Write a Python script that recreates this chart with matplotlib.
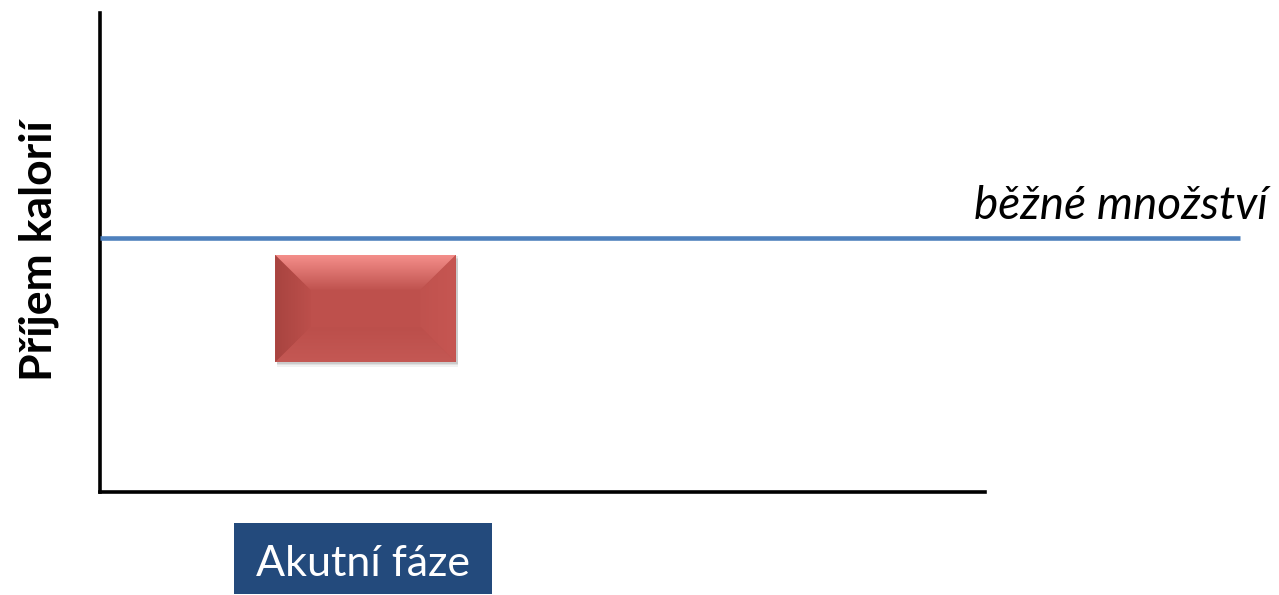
import matplotlib
matplotlib.use("Agg")
import matplotlib.pyplot as plt
import numpy as np
from matplotlib.patches import Rectangle, Polygon

# Data
categories = ["Akutní fáze"]
category_x = [3.0]
normal_level = 53.0
normal_label = "běžné množství"
acute_low = [27.1]
acute_high = [49.5]
y_label = "Příjem kalorií"

W, H = 1279, 595
fig = plt.figure(figsize=(W / 100, H / 100), dpi=100)
ax = fig.add_axes([100 / W, 1 - 492 / H, 885 / W, 479 / H])
ax.set_xlim(0, 10)
ax.set_ylim(0, 100)
ax.set_xticks([])
ax.set_yticks([])
for s in ["top", "right"]:
    ax.spines[s].set_visible(False)
for s in ["left", "bottom"]:
    ax.spines[s].set_linewidth(2.6)
    ax.spines[s].set_color("black")

# normal line
ax.plot([0, 12.88], [normal_level, normal_level], color="#4F81BD", lw=3.3,
        clip_on=False, solid_capstyle="butt", zorder=3)
ax.text(13.2, normal_level + 4.0, normal_label, ha="right", va="baseline",
        fontsize=33, style="italic", family="Lato", clip_on=False)


def gradient_poly(pts, c_a, c_b, horizontal, extent):
    poly = Polygon(pts, closed=True, facecolor="none", lw=0, zorder=4)
    ax.add_patch(poly)
    g = np.linspace(0, 1, 64)
    ca = np.array(c_a) / 255
    cb = np.array(c_b) / 255
    if horizontal:
        img = ca[None, None, :] * (1 - g[None, :, None]) + cb[None, None, :] * g[None, :, None]
    else:
        img = ca[None, None, :] * (1 - g[:, None, None]) + cb[None, None, :] * g[:, None, None]
    im = ax.imshow(img, extent=extent, origin="lower", aspect="auto", zorder=4.5)
    im.set_clip_path(poly)


# beveled bars
half_w = 1.02
for cx, lo, hi, lab in zip(category_x, acute_low, acute_high, categories):
    x0, x1 = cx - half_w, cx + half_w
    # shadow
    for k, a in enumerate([0.05, 0.07, 0.09]):
        d = 0.9 - k * 0.3
        ax.add_patch(Rectangle((x0 + 0.02, lo - d), x1 - x0, hi - lo,
                               facecolor="black", alpha=a, lw=0, zorder=2))
    ax.add_patch(Rectangle((x0, lo), x1 - x0, hi - lo, facecolor="#BE504C",
                           edgecolor="none", zorder=3))
    bx = 0.40
    by = 7.3
    # left bevel (dark at edge)
    gradient_poly([[x0, lo], [x0, hi], [x0 + bx, hi - by], [x0 + bx, lo + by]],
                  (0xA8, 0x44, 0x40), (0xBC, 0x4F, 0x4B), True, [x0, x0 + bx, lo, hi])
    # right bevel
    gradient_poly([[x1, lo], [x1, hi], [x1 - bx, hi - by], [x1 - bx, lo + by]],
                  (0xC0, 0x52, 0x4E), (0xC6, 0x56, 0x52), True, [x1 - bx, x1, lo, hi])
    # bottom bevel
    gradient_poly([[x0, lo], [x1, lo], [x1 - bx, lo + by], [x0 + bx, lo + by]],
                  (0xC4, 0x58, 0x54), (0xBC, 0x4F, 0x4B), False, [x0, x1, lo, lo + by])
    # top bevel
    gradient_poly([[x0, hi], [x1, hi], [x1 - bx, hi - by], [x0 + bx, hi - by]],
                  (0xC0, 0x53, 0x4F), (0xF4, 0x8E, 0x8A), False, [x0, x1, hi - by, hi])
    # category label box
    ax.add_patch(Rectangle((cx - 1.49, -21.3), 2.92, 14.8, facecolor="#234A7C",
                           edgecolor="none", clip_on=False, zorder=3))
    ax.text(cx - 0.03, -15.0, lab, ha="center", va="center", color="white",
            fontsize=31, family="Lato", clip_on=False, zorder=4)

ax.set_xlim(0, 10)
ax.set_ylim(0, 100)
ax.set_ylabel(y_label, fontsize=32, fontweight="bold", family="Lato")
ax.yaxis.set_label_coords(-0.046, 0.503)

fig.savefig("out.png", dpi=100)
